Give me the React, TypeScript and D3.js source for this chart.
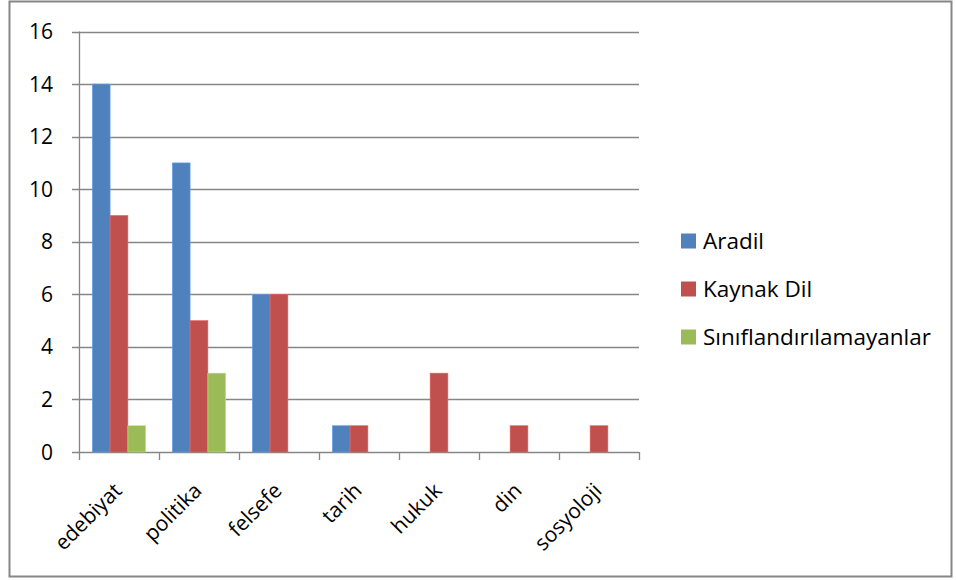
import { useRef, useEffect } from "react"
import * as d3 from "d3"

const categories = ["edebiyat", "politika", "felsefe", "tarih", "hukuk", "din", "sosyoloji"]
const seriesNames = ["Aradil", "Kaynak Dil", "Sınıflandırılamayanlar"]
const aradil = [14, 11, 6, 1, 0, 0, 0]
const kaynakDil = [9, 5, 6, 1, 3, 1, 1]
const siniflandirilamayanlar = [1, 3, 0, 0, 0, 0, 0]
const yTicks = [0, 2, 4, 6, 8, 10, 12, 14, 16]
const colors = ["#4F81BD", "#C0504D", "#9BBB59"]

const W = 956
const H = 580
const FONT = "'Open Sans', Lato, sans-serif"

export default function App() {
  const svgRef = useRef<SVGSVGElement>(null)

  useEffect(() => {
    if (!svgRef.current) return
    const svg = d3.select(svgRef.current)
    svg.selectAll("*").remove()

    const plot = { left: 79, right: 639, top: 31.5, bottom: 452 }
    const series = [aradil, kaynakDil, siniflandirilamayanlar]

    // outer chart border
    svg.append("rect").attr("x", 9.5).attr("y", 1.5).attr("width", 942).attr("height", 575)
      .attr("fill", "white").attr("stroke", "#868686").attr("stroke-width", 2)

    const x = d3.scaleBand().domain(categories).range([plot.left, plot.right])
    const x1 = d3.scaleBand().domain(seriesNames).range([0, x.bandwidth()]).paddingInner(0).paddingOuter(0.75)
    const y = d3.scaleLinear().domain([0, 16]).range([plot.bottom, plot.top])

    // gridlines + y ticks
    svg.append("g").selectAll("line").data(yTicks).join("line")
      .attr("x1", plot.left - 7).attr("x2", plot.right)
      .attr("y1", (d) => Math.round(y(d)) + 0.5).attr("y2", (d) => Math.round(y(d)) + 0.5)
      .attr("stroke", "#868686").attr("stroke-width", 1.3)

    svg.append("g").selectAll("text").data(yTicks).join("text")
      .attr("x", 53).attr("y", (d) => y(d)).attr("dy", "0.36em")
      .attr("text-anchor", "end").attr("font-family", FONT).attr("font-size", 21).attr("fill", "#000")
      .text((d) => d)

    // bars
    series.forEach((vals, si) => {
      svg.append("g").selectAll("rect").data(vals).join("rect")
        .attr("x", (_, i) => x(categories[i])! + x1(seriesNames[si])!)
        .attr("width", x1.bandwidth())
        .attr("y", (d) => y(d))
        .attr("height", (d) => y(0) - y(d))
        .attr("fill", colors[si])
        .attr("stroke", (d) => (d > 0 ? d3.color(colors[si])!.brighter(0.6).toString() : "none"))
        .attr("stroke-width", 0.6)
    })

    // y axis line
    svg.append("line").attr("x1", plot.left + 0.5).attr("x2", plot.left + 0.5)
      .attr("y1", plot.top).attr("y2", plot.bottom)
      .attr("stroke", "#868686").attr("stroke-width", 1.3)

    // x axis ticks
    const xTicks = [...categories.map((c) => x(c)!), plot.right]
    svg.append("g").selectAll("line").data(xTicks).join("line")
      .attr("x1", (d) => Math.round(d) + 0.5).attr("x2", (d) => Math.round(d) + 0.5)
      .attr("y1", y(0)).attr("y2", y(0) + 8)
      .attr("stroke", "#868686").attr("stroke-width", 1.3)

    // x labels, rotated -45deg, top-end corner hung below the category centre
    svg.append("g").selectAll("text").data(categories).join("text")
      .attr("transform", (c) => `translate(${x(c)! + x.bandwidth() / 2 - 7},${y(0) + 29}) rotate(-45)`)
      .attr("text-anchor", "end").attr("dy", "0.74em")
      .attr("font-family", FONT).attr("font-size", 21).attr("fill", "#000")
      .text((c) => c)

    // legend
    const lg = svg.append("g").attr("transform", "translate(681,241)")
    seriesNames.forEach((name, i) => {
      const row = lg.append("g").attr("transform", `translate(0,${i * 48})`)
      row.append("rect").attr("x", 0).attr("y", -7.5).attr("width", 15).attr("height", 15).attr("fill", colors[i])
      row.append("text").attr("x", 22).attr("y", 0).attr("dy", "0.36em")
        .attr("font-family", FONT).attr("font-size", 22.5).attr("fill", "#000").text(name)
    })
  }, [])

  return (
    <svg ref={svgRef} width={W} height={H} viewBox={`0 0 ${W} ${H}`}
      style={{ position: "absolute", left: 0, top: 0, background: "white" }} />
  )
}
